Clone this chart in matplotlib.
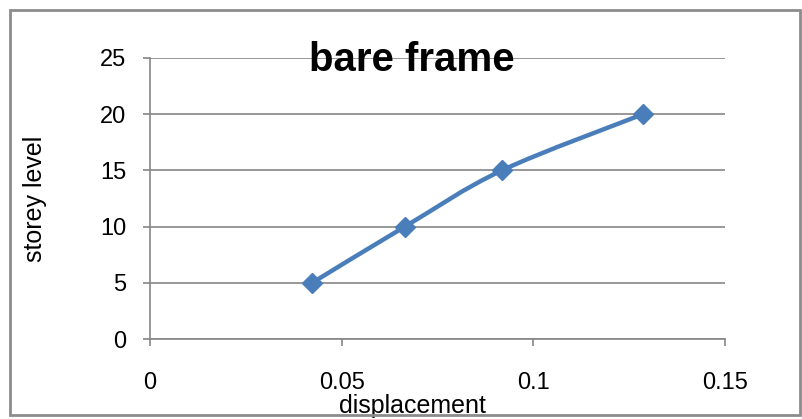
import matplotlib
matplotlib.use("Agg")
import matplotlib.pyplot as plt
from matplotlib.path import Path
from matplotlib.patches import PathPatch, Rectangle
from matplotlib import font_manager

# data
displacement = [0.0423, 0.0665, 0.0918, 0.1286]
storey = [5, 10, 15, 20]
xticks = [0, 0.05, 0.1, 0.15]
xticklabels = ["0", "0.05", "0.1", "0.15"]
yticks = [0, 5, 10, 15, 20, 25]

names = {f.name for f in font_manager.fontManager.ttflist}
fam = "Liberation Sans Narrow" if "Liberation Sans Narrow" in names else "Liberation Sans"
plt.rcParams["font.family"] = [fam, "DejaVu Sans"]

fig = plt.figure(figsize=(8.03, 4.19), dpi=100)
ax = fig.add_axes([150 / 803, 1 - 339 / 419, 575 / 803, 281 / 419])

grid_c = "#868686"
line_c = "#4A7EBB"


def smooth_path(xs, ys, t=1 / 6):
    # catmull-rom style bezier through the points (like excel smoothed line)
    verts = [(xs[0], ys[0])]
    codes = [Path.MOVETO]
    n = len(xs)
    for i in range(n - 1):
        x0, y0 = (xs[i - 1], ys[i - 1]) if i > 0 else (xs[i], ys[i])
        x1, y1 = xs[i], ys[i]
        x2, y2 = xs[i + 1], ys[i + 1]
        x3, y3 = (xs[i + 2], ys[i + 2]) if i + 2 < n else (x2, y2)
        c1 = (x1 + (x2 - x0) * t, y1 + (y2 - y0) * t)
        c2 = (x2 - (x3 - x1) * t, y2 - (y3 - y1) * t)
        verts += [c1, c2, (x2, y2)]
        codes += [Path.CURVE4] * 3
    return Path(verts, codes)


ax.add_patch(PathPatch(smooth_path(displacement, storey), fill=False,
                       edgecolor=line_c, lw=3.2, zorder=3, capstyle="round"))
ax.plot(displacement, storey, ls="none", marker="D", ms=10.5, color=line_c, zorder=4)

ax.set_xlim(0, 0.15)
ax.set_ylim(0, 25)
ax.set_xticks(xticks)
ax.set_xticklabels(xticklabels)
ax.set_yticks(yticks)
ax.grid(axis="y", color=grid_c, lw=1.2)
ax.set_axisbelow(True)
for s in ["top", "right"]:
    ax.spines[s].set_visible(False)
for s in ["left", "bottom"]:
    ax.spines[s].set_color(grid_c)
    ax.spines[s].set_linewidth(1.2)
ax.tick_params(axis="both", colors=grid_c, length=5, width=1.2, labelsize=17,
               labelcolor="black")
ax.tick_params(axis="x", pad=19)
ax.tick_params(axis="y", pad=12)

ax.set_xlabel("displacement", fontsize=18, va="center")
ax.xaxis.set_label_coords(0.456, -0.238)
ax.set_ylabel("storey level", fontsize=18, labelpad=38)
fig.text(412 / 803, 1 - 60 / 419, "bare frame", fontsize=29, fontweight="bold",
         ha="center", va="center")

fig.patches.append(Rectangle((10 / 803, 4 / 419), 790 / 803, 405 / 419,
                             transform=fig.transFigure, fill=False,
                             edgecolor="#8C8C8C", lw=2, zorder=10))

fig.savefig("out.png", dpi=100)
